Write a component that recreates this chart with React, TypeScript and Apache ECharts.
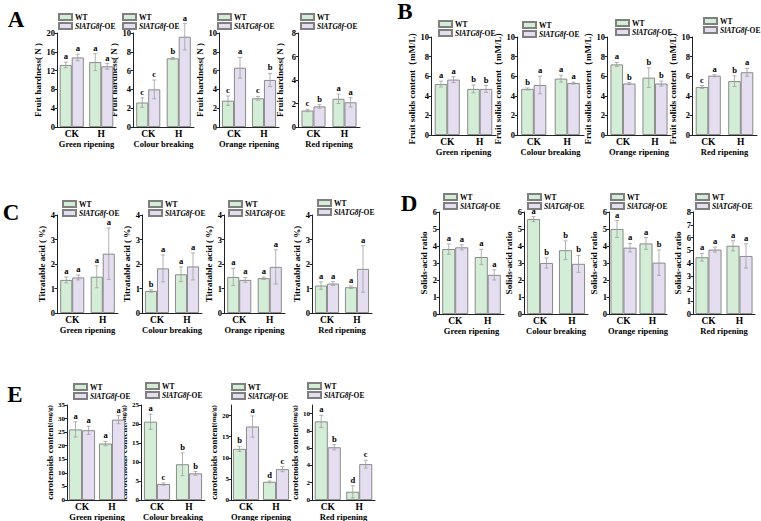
import { useEffect, useRef } from 'react';
import * as echarts from 'echarts';

// ---------- data ----------
const categories = ['CK', 'H'];
const stages = ['Green ripening', 'Colour breaking', 'Orange ripening', 'Red ripening'];
const legendNames = ['WT', 'SlATG8f-OE'];

// Fruit hardness (N), per stage: [CK, H]
const hardnessWT = [[13.2, 13.8], [2.6, 7.3], [2.8, 3.05], [1.4, 2.4]];
const hardnessOE = [[14.8, 12.9], [4.0, 9.6], [6.3, 5.0], [1.75, 2.1]];
const hardnessWTErr = [[0.6, 1.8], [0.5, 0.1], [0.5, 0.2], [0.1, 0.4]];
const hardnessOEErr = [[0.7, 0.6], [1.0, 1.4], [1.1, 0.7], [0.15, 0.4]];
const hardnessLetters = [['a', 'a', 'a', 'a'], ['c', 'c', 'b', 'a'], ['c', 'a', 'c', 'b'], ['c', 'b', 'a', 'a']];
const hardnessMax = [20, 10, 10, 8];
const hardnessStep = [4, 2, 2, 2];

// Fruit solids content (mM/L)
const solidsWT = [[5.2, 4.7], [4.7, 5.75], [7.2, 5.85], [4.9, 5.5]];
const solidsOE = [[5.65, 4.7], [5.1, 5.3], [5.25, 5.25], [6.05, 6.4]];
const solidsWTErr = [[0.3, 0.4], [0.1, 0.35], [0.2, 1.0], [0.15, 0.55]];
const solidsOEErr = [[0.3, 0.35], [0.9, 0.1], [0.1, 0.25], [0.1, 0.4]];
const solidsLetters = [['a', 'a', 'b', 'b'], ['b', 'a', 'a', 'a'], ['a', 'b', 'b', 'b'], ['c', 'a', 'b', 'a']];
const solidsMax = [10, 10, 10, 10];
const solidsStep = [2, 2, 2, 2];

// Titratable acid (%)
const acidWT = [[1.35, 1.48], [0.9, 1.58], [1.47, 1.42], [1.12, 1.05]];
const acidOE = [[1.45, 2.42], [1.82, 1.9], [1.35, 1.88], [1.2, 1.8]];
const acidWTErr = [[0.12, 0.45], [0.05, 0.3], [0.35, 0.05], [0.15, 0.05]];
const acidOEErr = [[0.1, 1.05], [0.55, 0.55], [0.1, 0.7], [0.08, 0.95]];
const acidLetters = [['a', 'a', 'a', 'a'], ['b', 'a', 'a', 'a'], ['a', 'a', 'a', 'a'], ['a', 'a', 'a', 'a']];
const acidMax = [4, 4, 4, 4];
const acidStep = [1, 1, 1, 1];

// Solids-acid ratio
const ratioWT = [[3.82, 3.35], [5.58, 3.75], [5.0, 4.15], [4.45, 5.35]];
const ratioOE = [[3.92, 2.3], [3.0, 2.95], [3.9, 3.02], [5.05, 4.55]];
const ratioWTErr = [[0.3, 0.45], [0.15, 0.55], [0.5, 0.35], [0.3, 0.4]];
const ratioOEErr = [[0.15, 0.3], [0.3, 0.5], [0.25, 0.75], [0.2, 0.95]];
const ratioLetters = [['a', 'a', 'a', 'a'], ['a', 'b', 'b', 'b'], ['a', 'a', 'a', 'b'], ['a', 'a', 'a', 'a']];
const ratioMax = [6, 6, 6, 8];
const ratioStep = [1, 1, 1, 1];

// Carotenoids content (mg/g)
const caroWT = [[26.0, 20.8], [20.6, 9.4], [12.1, 4.3], [9.1, 0.95]];
const caroOE = [[25.7, 29.6], [4.2, 7.0], [17.4, 7.3], [6.1, 4.15]];
const caroWTErr = [[2.8, 0.8], [2.0, 3.0], [0.6, 0.2], [0.7, 0.7]];
const caroOEErr = [[1.5, 1.5], [0.3, 0.5], [2.5, 0.6], [0.3, 0.45]];
const caroLetters = [['a', 'a', 'a', 'a'], ['a', 'c', 'b', 'b'], ['b', 'a', 'd', 'c'], ['a', 'b', 'd', 'c']];
const caroMax = [35, 25, 22.5, 11];
const caroStep = [5, 5, 5, 2];
const caroLabelMax = [35, 25, 20, 10];

// ---------- styling / layout ----------
const FONT = '"Liberation Serif","Times New Roman",Times,serif';
const WT_COLOR = '#d4edd6';
const OE_COLOR = '#e4def0';
const BORDER = '#7f7f7f';
const AXIS = '#222';
const ERR = '#a0a0a0';

interface Row {
  label: string;
  labelPos: [number, number];
  yName: string;
  wt: number[][];
  oe: number[][];
  wtErr: number[][];
  oeErr: number[][];
  letters: string[][];
  yMax: number[];
  yStep: number[];
  yLabelMax: number[];
  lefts: number[];
  widths: number[];
  top: number;
  zero: number;
  legends: number[][];
  barW: number;
  nameGap: number;
  xNameGap: number;
  tickFont: number;
}

const rows: Row[] = [
  {
    label: 'A', labelPos: [16, 19], yName: 'Fruit hardness( N )',
    wt: hardnessWT, oe: hardnessOE, wtErr: hardnessWTErr, oeErr: hardnessOEErr, letters: hardnessLetters,
    yMax: hardnessMax, yStep: hardnessStep, yLabelMax: hardnessMax,
    lefts: [57, 133, 219, 298], widths: [59, 61, 60, 62], top: 33, zero: 127,
    legends: [[58, 13], [122, 13], [217, 13], [300, 13]], barW: 12, nameGap: 14, xNameGap: 11, tickFont: 8.5,
  },
  {
    label: 'B', labelPos: [405, 11], yName: 'Fruit solids content（mM/L）',
    wt: solidsWT, oe: solidsOE, wtErr: solidsWTErr, oeErr: solidsOEErr, letters: solidsLetters,
    yMax: solidsMax, yStep: solidsStep, yLabelMax: solidsMax,
    lefts: [431, 517, 607, 692], widths: [65, 67, 64, 65], top: 37, zero: 135,
    legends: [[438, 20], [522, 21], [615, 19], [703, 17]], barW: 12.5, nameGap: 15, xNameGap: 11, tickFont: 8.5,
  },
  {
    label: 'C', labelPos: [11, 212], yName: 'Titratable acid ( %)',
    wt: acidWT, oe: acidOE, wtErr: acidWTErr, oeErr: acidOEErr, letters: acidLetters,
    yMax: acidMax, yStep: acidStep, yLabelMax: acidMax,
    lefts: [57, 142, 224, 312], widths: [61, 60, 61, 60], top: 215, zero: 313,
    legends: [[62, 200], [148, 200], [228, 200], [317, 199]], barW: 12, nameGap: 10, xNameGap: 11, tickFont: 8.5,
  },
  {
    label: 'D', labelPos: [409, 203], yName: 'Solids-acid ratio',
    wt: ratioWT, oe: ratioOE, wtErr: ratioWTErr, oeErr: ratioOEErr, letters: ratioLetters,
    yMax: ratioMax, yStep: ratioStep, yLabelMax: ratioMax,
    lefts: [439, 524, 609, 693], widths: [65, 64, 58, 62], top: 212, zero: 314,
    legends: [[443, 193], [527, 193], [610, 193], [695, 193]], barW: 13, nameGap: 8, xNameGap: 11, tickFont: 8.5,
  },
  {
    label: 'E', labelPos: [15, 394], yName: 'carotenoids content(mg/g)',
    wt: caroWT, oe: caroOE, wtErr: caroWTErr, oeErr: caroOEErr, letters: caroLetters,
    yMax: caroMax, yStep: caroStep, yLabelMax: caroLabelMax,
    lefts: [67, 141, 231, 312], widths: [60, 64, 60, 63], top: 405, zero: 500,
    legends: [[73, 383], [145, 382], [231, 383], [307, 382]], barW: 13, nameGap: 11.5, xNameGap: 9, tickFont: 7,
  },
];

function buildOption() {
  const grid: any[] = [];
  const xAxis: any[] = [];
  const yAxis: any[] = [];
  const series: any[] = [];
  const legend: any[] = [];
  const graphic: any[] = [];

  rows.forEach((row) => {
    graphic.push({
      type: 'text',
      x: row.labelPos[0],
      y: row.labelPos[1],
      style: {
        text: row.label,
        font: `bold 23px ${FONT}`,
        fill: '#000',
        align: 'center',
        verticalAlign: 'middle',
      },
    });

    for (let p = 0; p < 4; p++) {
      const gi = grid.length;
      grid.push({
        left: row.lefts[p],
        top: row.top,
        width: row.widths[p],
        height: row.zero - row.top,
        containLabel: false,
        outerBoundsMode: 'none',
      });
      xAxis.push({
        type: 'category',
        gridIndex: gi,
        data: categories,
        name: stages[p],
        nameLocation: 'middle',
        nameGap: row.xNameGap,
        nameTextStyle: { fontFamily: FONT, fontWeight: 'bold', fontSize: 8.5, color: '#000' },
        axisLine: { lineStyle: { color: AXIS, width: 1 } },
        axisTick: { show: false },
        axisLabel: { margin: 2, fontFamily: FONT, fontWeight: 'bold', fontSize: 9.5, color: '#000' },
        splitLine: { show: false },
      });
      const labelVals: number[] = [];
      for (let v = 0; v <= row.yLabelMax[p] + 1e-9; v += row.yStep[p]) labelVals.push(v);
      const labelMax = row.yLabelMax[p];
      yAxis.push({
        type: 'value',
        gridIndex: gi,
        min: 0,
        max: row.yMax[p],
        interval: row.yStep[p],
        name: row.label === 'E' ? '{a|carotenoids content}{b|(mg/g)}' : row.yName,
        nameLocation: 'middle',
        nameGap: row.nameGap,
        nameTextStyle: {
          fontFamily: FONT, fontWeight: 'bold', fontSize: 9, color: '#000',
          rich: {
            a: { fontFamily: FONT, fontWeight: 'bold', fontSize: 9, color: '#000' },
            b: { fontFamily: FONT, fontWeight: 'bold', fontSize: 7, color: '#000' },
          },
        },
        axisLine: { show: true, lineStyle: { color: AXIS, width: 1 } },
        axisTick: { show: true, length: 2.5, lineStyle: { color: AXIS }, customValues: labelVals },
        axisLabel: {
          customValues: labelVals,
          margin: 2,
          fontFamily: FONT,
          fontWeight: 'bold',
          fontSize: row.tickFont,
          color: '#000',
          formatter: (v: number) => (v > labelMax + 1e-9 ? '' : String(v)),
        },
        splitLine: { show: false },
      });

      const barW = row.barW;
      series.push({
        type: 'bar',
        name: legendNames[0],
        xAxisIndex: gi,
        yAxisIndex: gi,
        data: row.wt[p],
        barWidth: barW,
        barGap: '0%',
        itemStyle: { color: WT_COLOR, borderColor: BORDER, borderWidth: 0.9 },
        silent: true,
      });
      series.push({
        type: 'bar',
        name: legendNames[1],
        xAxisIndex: gi,
        yAxisIndex: gi,
        data: row.oe[p],
        barWidth: barW,
        barGap: '0%',
        itemStyle: { color: OE_COLOR, borderColor: BORDER, borderWidth: 0.9 },
        silent: true,
      });

      const errData = [
        [0, 0, row.wt[p][0], row.wtErr[p][0]],
        [0, 1, row.oe[p][0], row.oeErr[p][0]],
        [1, 0, row.wt[p][1], row.wtErr[p][1]],
        [1, 1, row.oe[p][1], row.oeErr[p][1]],
      ];
      const letters = row.letters[p];
      series.push({
        type: 'custom',
        xAxisIndex: gi,
        yAxisIndex: gi,
        silent: true,
        z: 5,
        data: errData,
        encode: { x: 0, y: 2 },
        renderItem: (params: any, api: any) => {
          const cat = api.value(0);
          const s = api.value(1);
          const v = api.value(2);
          const e = api.value(3);
          const base = api.coord([cat, v]);
          const xc = base[0] + (s === 0 ? -barW / 2 : barW / 2);
          const yT = api.coord([cat, v + e])[1];
          const yB = api.coord([cat, Math.max(v - e, 0)])[1];
          const cap = 2;
          const ls = { stroke: ERR, lineWidth: 0.8 };
          return {
            type: 'group',
            children: [
              { type: 'line', shape: { x1: xc, y1: yT, x2: xc, y2: yB }, style: ls },
              { type: 'line', shape: { x1: xc - cap, y1: yT, x2: xc + cap, y2: yT }, style: ls },
              { type: 'line', shape: { x1: xc - cap, y1: yB, x2: xc + cap, y2: yB }, style: ls },
              {
                type: 'text',
                x: xc,
                y: yT - 1.5,
                style: {
                  text: letters[params.dataIndex],
                  font: `bold 8.5px ${FONT}`,
                  fill: '#000',
                  align: 'center',
                  verticalAlign: 'bottom',
                },
              },
            ],
          };
        },
      });

      legend.push({
        data: legendNames,
        left: row.legends[p][0],
        top: row.legends[p][1],
        orient: 'vertical',
        icon: 'rect',
        itemWidth: 13,
        itemHeight: 6,
        itemGap: 1,
        padding: 0,
        selectedMode: false,
        formatter: (n: string) => (n === 'WT' ? 'WT' : '{i|SlATG8f}-OE'),
        textStyle: {
          fontFamily: FONT,
          fontWeight: 'bold',
          fontSize: 7.5,
          color: '#000',
          padding: [0, 0, 0, -2],
          rich: {
            i: { fontFamily: FONT, fontWeight: 'bold', fontStyle: 'italic', fontSize: 7.5, color: '#000' },
          },
        },
      });
    }
  });

  return {
    animation: false,
    backgroundColor: '#ffffff',
    textStyle: { fontFamily: FONT },
    grid,
    xAxis,
    yAxis,
    series,
    legend,
    graphic,
  };
}

export default function App() {
  const ref = useRef<HTMLDivElement>(null);
  useEffect(() => {
    if (!ref.current) return;
    const chart = echarts.init(ref.current, undefined, { renderer: 'svg' });
    chart.setOption(buildOption() as any);
    return () => chart.dispose();
  }, []);
  return (
    <div
      ref={ref}
      style={{ position: 'fixed', left: 0, top: 0, width: 761, height: 521, background: '#fff' }}
    />
  );
}
